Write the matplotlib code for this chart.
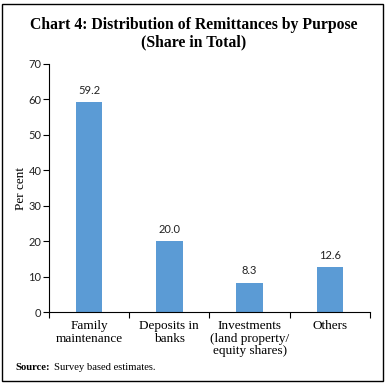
import numpy as np
import matplotlib
matplotlib.use('Agg')
from matplotlib import pyplot as plt
from matplotlib.patches import Rectangle

# --- data ---
categories = ['Family\nmaintenance', 'Deposits in\nbanks',
              'Investments\n(land property/\nequity shares)', 'Others']
values = [59.2, 20.0, 8.3, 12.6]
y_ticks = [0, 10, 20, 30, 40, 50, 60, 70]

bar_color = '#5B9BD5'
serif = 'Liberation Serif'
sans = 'Lato'

fig = plt.figure(figsize=(3.87, 3.86), dpi=100)
ax = fig.add_axes([0.1266, 0.1917, 0.8294, 0.6425])

x = np.arange(len(categories))
ax.bar(x, values, width=0.33, color=bar_color, zorder=2)

# valori sopra le barre
for xi, v in zip(x, values):
    ax.text(xi, v + 1.8, f'{v:.1f}', ha='center', va='bottom',
            fontsize=8, family=sans, color='#222222')

ax.set_xlim(-0.5, len(categories) - 0.5)
ax.set_ylim(0, 70)
ax.set_yticks(y_ticks)
ax.set_yticklabels([str(t) for t in y_ticks], family=sans, fontsize=8,
                   color='#222222')

ax.set_xticks(x)
ax.set_xticklabels(categories, family=serif, fontsize=9.5, linespacing=1.05)
ax.tick_params(axis='x', which='major', length=0, pad=6)
ax.set_xticks(np.arange(-0.5, len(categories)), minor=True)
ax.tick_params(axis='x', which='minor', length=4, direction='out', width=0.8)
ax.tick_params(axis='y', length=4, direction='out', width=0.8, pad=1.5)

for s in ['top', 'right']:
    ax.spines[s].set_visible(False)
for s in ['left', 'bottom']:
    ax.spines[s].set_linewidth(0.8)

ax.set_ylabel('Per cent', family=serif, fontsize=9.5, labelpad=1)

# titolo
fig.text(0.5, 0.935, 'Chart 4: Distribution of Remittances by Purpose',
         ha='center', va='center', family=serif, fontweight='bold', fontsize=11.3)
fig.text(0.5, 0.889, '(Share in Total)', ha='center', va='center',
         family=serif, fontweight='bold', fontsize=11.3)

# fonte
fig.text(0.041, 0.049, 'Source:', ha='left', va='center', family=serif,
         fontweight='bold', fontsize=7.7)
fig.text(0.041 + 0.098, 0.049, 'Survey based estimates.', ha='left',
         va='center', family=serif, fontsize=7.7)

# cornice
fig.patches.append(Rectangle((0.006, 0.013), 0.983, 0.977, transform=fig.transFigure,
                             fill=False, edgecolor='black', linewidth=1.0))

plt.savefig('out.png', dpi=100)
